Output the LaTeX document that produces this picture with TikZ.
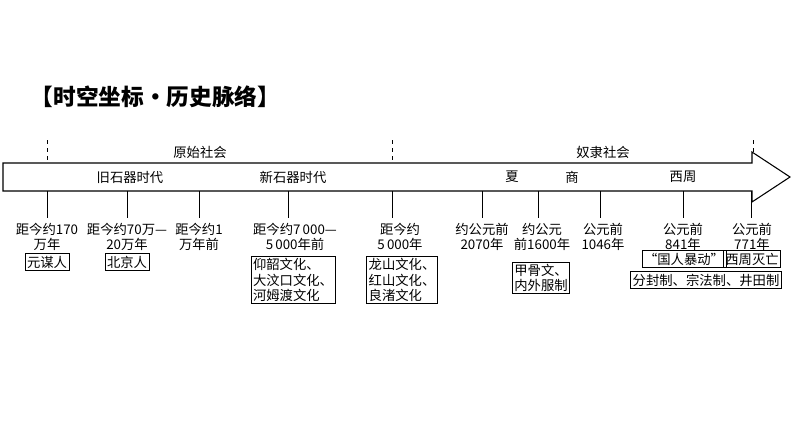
\documentclass[tikz,border=0pt]{standalone}
\usepackage{fontspec}
\setmainfont{Liberation Serif}
\newfontfamily\cjk{Noto Sans CJK SC}
\begin{document}
\begin{tikzpicture}[x=0.75pt,y=-0.75pt,
  lab/.style={font=\cjk\fontsize{10}{11.5}\selectfont,align=center,inner sep=0pt},
  bx/.style={lab,draw,inner sep=1.5pt,line width=0.6pt},
  tick/.style={line width=0.7pt}]
\useasboundingbox (0,0) rectangle (794,447);
\node[font=\cjk\bfseries\fontsize{17}{20}\selectfont,anchor=west] (t) at (26,97) {【时空坐标·历史脉络】};
\draw[line width=0.8pt,fill=white] (3,163) -- (752,163) -- (752,152) -- (790,177) -- (752,202) -- (752,191) -- (3,191) -- cycle;
\coordinate (d1a) at (47,140); \coordinate (d1b) at (47,163);
\coordinate (d2a) at (392,140); \coordinate (d2b) at (392,163);
\coordinate (d3a) at (753,140); \coordinate (d3b) at (753,152);
\draw[dashed,tick] (d1a)--(d1b) (d2a)--(d2b) (d3a)--(d3b);
\node[lab] (p1) at (200,152) {原始社会};
\node[lab] (p2) at (603,152) {奴隶社会};
\node[lab] (e1) at (130,177) {旧石器时代};
\node[lab] (e2) at (293,177) {新石器时代};
\node[lab] (e3) at (512,177) {夏};
\node[lab] (e4) at (572,177) {商};
\node[lab] (e5) at (683,177) {西周};
\foreach \n/\x in {a/47,b/127,c/199,d/288,e/392,f/482,g/538,h/600,i/683,j/751}{
  \coordinate (t\n) at (\x,191); \coordinate (b\n) at (\x,218);
  \draw[tick] (t\n)--(b\n);}
\node[lab] (la) at (47,237) {距今约170\\万年};
\node[lab] (lb) at (127,237) {距今约70万—\\20万年};
\node[lab] (lc) at (199,237) {距今约1\\万年前};
\node[lab] (ld) at (295,237) {距今约7\,000—\\5\,000年前};
\node[lab] (le) at (400,237) {距今约\\5\,000年};
\node[lab] (lf) at (482,237) {约公元前\\2070年};
\node[lab] (lg) at (542,237) {约公元\\前1600年};
\node[lab] (lh) at (603,237) {公元前\\1046年};
\node[lab] (li) at (683,237) {公元前\\841年};
\node[lab] (lj) at (752,237) {公元前\\771年};
\node[bx] (xa) at (47,262) {元谋人};
\node[bx] (xb) at (127,262) {北京人};
\node[bx,align=left] (xd) at (293,280) {仰韶文化、\\大汶口文化、\\河姆渡文化};
\node[bx,align=left] (xe) at (402,280) {龙山文化、\\红山文化、\\良渚文化};
\node[bx,align=left] (xg) at (541,278) {甲骨文、\\内外服制};
\node[bx] (xi) at (684,259) {“国人暴动”};
\node[bx] (xj) at (752,259) {西周灭亡};
\node[bx] (xk) at (706,280) {分封制、宗法制、井田制};
\end{tikzpicture}
\end{document}
